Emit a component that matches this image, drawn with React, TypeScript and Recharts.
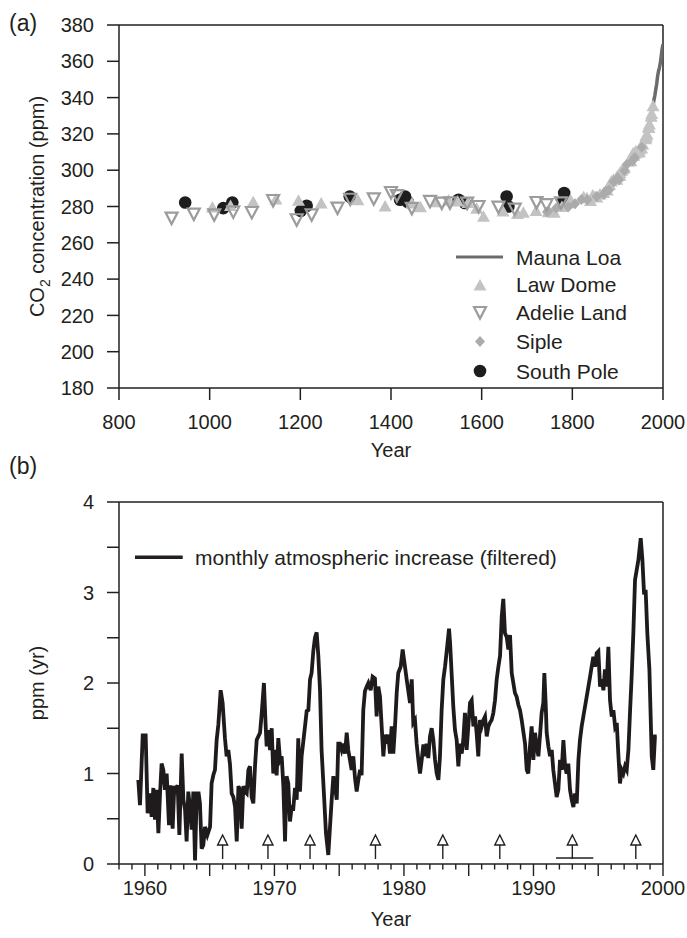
import React from "react";
import {
  ComposedChart,
  Line,
  Scatter,
  XAxis,
  YAxis,
  ReferenceLine,
  Legend,
} from "recharts";

const FONT = '"Liberation Sans", Arial, Helvetica, sans-serif';
const INK = "#231f20";

// ---- panel (a): CO2 records, [year, ppm]
const maunaLoa: [number, number][] = [
  [1959, 316.0], [1960, 316.9], [1962, 318.5], [1964, 319.6], [1966, 321.4],
  [1968, 323.1], [1970, 325.7], [1972, 327.5], [1974, 330.2], [1976, 332.1],
  [1978, 335.4], [1980, 338.7], [1982, 341.1], [1984, 344.4], [1986, 347.4],
  [1988, 351.6], [1990, 354.4], [1992, 356.4], [1994, 358.8], [1996, 362.6],
  [1998, 366.7], [2000, 369.4],
];

const lawDome: [number, number][] = [
  [1006, 279.4], [1046, 280.3], [1096, 282.4], [1146, 283.8], [1196, 283.1],
  [1246, 281.7], [1327, 283.4], [1387, 280.0], [1446, 281.7], [1465, 279.6],
  [1499, 282.4], [1527, 283.2], [1547, 282.8], [1570, 281.9], [1589, 278.7],
  [1604, 274.3], [1647, 277.2], [1679, 275.9], [1692, 276.5], [1720, 277.5],
  [1747, 276.9], [1760, 276.5], [1777, 279.7], [1794, 281.8], [1796, 283.4],
  [1825, 285.1], [1832, 284.5], [1840, 283.0], [1845, 286.1], [1850, 285.2],
  [1854, 284.9], [1861, 286.6], [1869, 287.4], [1877, 288.8], [1882, 291.9],
  [1886, 293.8], [1891, 294.7], [1898, 294.7], [1899, 296.5], [1905, 296.9],
  [1905, 298.5], [1909, 299.7], [1912, 300.7], [1915, 301.3], [1924, 304.8],
  [1926, 305.2], [1929, 305.0], [1932, 307.8], [1934, 309.2], [1936, 307.9],
  [1939, 309.2], [1940, 310.5], [1944, 309.7], [1948, 309.9], [1948, 311.4],
  [1953, 311.9], [1954, 314.1], [1955, 314.1], [1962, 318.7], [1962, 317.0],
  [1963, 318.2], [1965, 319.5], [1968, 323.7], [1969, 323.2], [1970, 325.2],
  [1974, 329.5], [1975, 331.0], [1978, 335.2],
];

const adelieLand: [number, number][] = [
  [916, 273.6], [965, 275.8], [1010, 275.4], [1052, 277.0], [1093, 276.7],
  [1140, 283.3], [1192, 272.7], [1225, 275.4], [1282, 279.1], [1310, 284.0],
  [1362, 284.2], [1400, 287.7], [1413, 286.0], [1446, 279.0], [1486, 282.8],
  [1512, 281.9], [1530, 282.0], [1568, 281.9], [1593, 280.0], [1637, 279.7],
  [1673, 278.6], [1721, 282.2], [1743, 281.0], [1775, 282.0],
];

const siple: [number, number][] = [
  [1744, 277.0], [1747, 277.5], [1764, 279.0], [1791, 279.7], [1806, 281.5],
  [1820, 283.8], [1833, 283.7], [1854, 285.5], [1869, 286.8], [1874, 288.6],
  [1881, 289.1], [1891, 293.6], [1900, 295.8], [1903, 294.8], [1915, 299.7],
  [1920, 303.1], [1933, 305.2], [1938, 307.0], [1953, 312.7],
];

const southPole: [number, number][] = [
  [946, 282.2], [1030, 279.1], [1050, 282.2], [1201, 277.6], [1214, 280.4],
  [1309, 285.5], [1420, 283.7], [1431, 285.5], [1437, 282.5], [1549, 283.7],
  [1563, 281.9], [1655, 285.5], [1659, 280.0], [1780, 283.0], [1782, 287.4],
];

const seriesNamesA = ["Mauna Loa", "Law Dome", "Adelie Land", "Siple", "South Pole"];
const yearTicksA = [800, 1000, 1200, 1400, 1600, 1800, 2000];
const ppmTicks = [180, 200, 220, 240, 260, 280, 300, 320, 340, 360, 380];

// ---- panel (b): filtered monthly atmospheric increase, [year, ppm/yr]
const monthlyIncrease: [number, number][] = [
  [1959.49, 0.93], [1959.62, 0.65], [1959.83, 1.42], [1960.06, 1.42], [1960.21, 0.56],
  [1960.39, 0.78], [1960.52, 0.52], [1960.65, 0.84], [1960.78, 0.49], [1960.91, 0.82],
  [1961.04, 0.34], [1961.17, 0.78], [1961.29, 1.11], [1961.42, 1.04], [1961.55, 0.82],
  [1961.68, 1.0], [1961.86, 0.43], [1961.99, 0.87], [1962.14, 0.39], [1962.27, 0.86],
  [1962.4, 0.82], [1962.53, 0.87], [1962.66, 0.32], [1962.84, 1.22], [1962.97, 0.71],
  [1963.1, 0.6], [1963.22, 0.25], [1963.35, 0.8], [1963.48, 0.62], [1963.61, 0.38],
  [1963.74, 0.8], [1963.87, 0.04], [1964.0, 0.78], [1964.15, 0.78], [1964.25, 0.67],
  [1964.38, 0.17], [1964.51, 0.21], [1964.64, 0.41], [1964.82, 0.32], [1965.03, 0.41],
  [1965.15, 0.89], [1965.28, 0.98], [1965.41, 1.04], [1965.54, 1.37], [1965.67, 1.54],
  [1965.85, 1.92], [1966.0, 1.78], [1966.18, 1.39], [1966.31, 1.19], [1966.44, 1.26],
  [1966.57, 1.1], [1966.7, 0.78], [1966.83, 0.74], [1966.96, 0.63], [1967.09, 0.25],
  [1967.22, 0.86], [1967.34, 0.82], [1967.47, 0.39], [1967.6, 0.86], [1967.73, 0.8],
  [1967.86, 0.78], [1967.99, 1.04], [1968.11, 1.08], [1968.24, 0.74], [1968.37, 0.67],
  [1968.5, 1.08], [1968.63, 1.37], [1968.76, 1.41], [1968.89, 1.45], [1969.01, 1.65],
  [1969.19, 2.0], [1969.32, 1.54], [1969.4, 1.3], [1969.53, 1.48], [1969.66, 1.26],
  [1969.79, 1.5], [1969.91, 1.0], [1970.04, 1.26], [1970.17, 0.98], [1970.3, 1.39],
  [1970.43, 1.15], [1970.56, 1.19], [1970.69, 0.86], [1970.82, 0.25], [1970.94, 0.97],
  [1971.07, 0.89], [1971.2, 0.47], [1971.33, 0.63], [1971.46, 0.62], [1971.59, 0.84],
  [1971.72, 0.71], [1971.84, 1.39], [1971.97, 0.8], [1972.1, 1.19], [1972.36, 1.52],
  [1972.49, 1.69], [1972.62, 1.7], [1972.75, 2.04], [1972.87, 2.11], [1973.0, 2.35],
  [1973.13, 2.5], [1973.26, 2.56], [1973.39, 2.3], [1973.52, 1.92], [1973.64, 1.26],
  [1973.82, 0.78], [1973.98, 0.34], [1974.16, 0.1], [1974.29, 0.41], [1974.42, 0.71],
  [1974.55, 0.97], [1974.68, 0.86], [1974.81, 0.71], [1974.93, 1.33], [1975.06, 1.33],
  [1975.19, 1.26], [1975.32, 1.33], [1975.45, 1.22], [1975.58, 1.45], [1975.7, 1.26],
  [1975.83, 1.15], [1975.96, 1.04], [1976.09, 1.19], [1976.22, 0.95], [1976.35, 0.8],
  [1976.48, 0.93], [1976.61, 1.04], [1976.73, 0.98], [1976.86, 1.7], [1976.99, 1.91],
  [1977.12, 1.96], [1977.25, 2.0], [1977.43, 1.92], [1977.58, 2.07], [1977.76, 2.05],
  [1977.89, 1.63], [1978.02, 1.96], [1978.15, 1.85], [1978.28, 1.52], [1978.41, 1.19],
  [1978.54, 1.43], [1978.66, 1.33], [1978.79, 1.43], [1978.92, 1.22], [1979.05, 1.52],
  [1979.18, 1.22], [1979.31, 1.52], [1979.44, 1.89], [1979.56, 2.11], [1979.75, 2.18],
  [1979.9, 2.37], [1980.08, 2.18], [1980.21, 2.04], [1980.47, 1.78], [1980.6, 2.04],
  [1980.72, 1.56], [1980.85, 1.59], [1980.98, 1.33], [1981.11, 1.15], [1981.24, 1.0],
  [1981.37, 1.15], [1981.5, 1.32], [1981.63, 1.19], [1981.75, 1.33], [1981.88, 1.17],
  [1982.01, 1.41], [1982.14, 1.5], [1982.27, 1.37], [1982.4, 1.15], [1982.53, 1.0],
  [1982.66, 0.93], [1982.78, 1.19], [1982.91, 1.7], [1983.04, 2.04], [1983.17, 2.18],
  [1983.3, 2.35], [1983.48, 2.6], [1983.56, 2.45], [1983.68, 2.11], [1983.81, 1.74],
  [1983.94, 1.48], [1984.07, 1.37], [1984.2, 1.08], [1984.33, 1.33], [1984.46, 1.22],
  [1984.58, 1.37], [1984.71, 1.67], [1984.84, 1.26], [1984.97, 1.52], [1985.1, 1.78],
  [1985.23, 1.81], [1985.36, 1.52], [1985.49, 1.63], [1985.61, 1.45], [1985.74, 1.19],
  [1985.87, 1.59], [1986.0, 1.52], [1986.13, 1.59], [1986.26, 1.63], [1986.39, 1.41],
  [1986.52, 1.52], [1986.64, 1.56], [1986.77, 1.59], [1986.9, 1.67], [1987.03, 1.81],
  [1987.16, 2.04], [1987.29, 2.18], [1987.42, 2.3], [1987.55, 2.74], [1987.67, 2.93],
  [1987.8, 2.55], [1987.93, 2.51], [1988.06, 2.37], [1988.19, 2.53], [1988.32, 2.11],
  [1988.57, 1.89], [1988.7, 1.85], [1988.83, 1.76], [1988.96, 1.7], [1989.09, 1.59],
  [1989.22, 1.46], [1989.35, 1.33], [1989.48, 1.04], [1989.6, 1.0], [1989.73, 1.3],
  [1989.86, 1.52], [1989.99, 1.15], [1990.12, 1.45], [1990.25, 1.3], [1990.38, 1.19],
  [1990.5, 1.41], [1990.63, 1.67], [1990.76, 1.78], [1990.84, 2.11], [1990.94, 1.78],
  [1991.02, 1.45], [1991.15, 1.3], [1991.28, 1.19], [1991.41, 1.26], [1991.53, 1.04],
  [1991.66, 0.89], [1991.79, 0.74], [1991.92, 0.82], [1992.05, 1.15], [1992.18, 1.04],
  [1992.31, 1.37], [1992.44, 1.08], [1992.56, 1.0], [1992.69, 1.11], [1992.82, 0.82],
  [1992.95, 0.71], [1993.08, 0.63], [1993.21, 0.78], [1993.34, 0.67], [1993.47, 1.15],
  [1993.59, 1.37], [1993.72, 1.52], [1993.85, 1.63], [1993.98, 1.74], [1994.11, 1.85],
  [1994.24, 1.96], [1994.37, 2.07], [1994.49, 2.18], [1994.62, 2.29], [1994.75, 2.18],
  [1994.88, 2.33], [1995.01, 2.35], [1995.14, 1.96], [1995.27, 2.04], [1995.4, 1.92],
  [1995.52, 2.15], [1995.65, 1.96], [1995.78, 2.4], [1995.91, 1.81], [1996.04, 1.63],
  [1996.17, 1.7], [1996.3, 1.52], [1996.43, 1.56], [1996.55, 1.22], [1996.68, 0.89],
  [1996.81, 1.04], [1996.94, 1.0], [1997.07, 1.08], [1997.2, 1.04], [1997.33, 1.26],
  [1997.46, 1.7], [1997.58, 2.07], [1997.71, 2.55], [1997.84, 3.14], [1998.1, 3.36],
  [1998.28, 3.6], [1998.41, 3.36], [1998.54, 2.98], [1998.66, 3.03], [1998.79, 2.55],
  [1998.95, 2.15], [1999.13, 1.19], [1999.25, 1.04], [1999.38, 1.41], [1999.51, 1.41],
];

const ensoArrowYears = [1966.0, 1969.5, 1972.75, 1977.8, 1983.0, 1987.4, 1993.0, 1997.9];
const arrowTipValue = 0.32;
const pinatuboSpan = [1991.74, 1994.62];
const pinatuboLevel = 0.067;

const yearTicksB = Array.from({ length: 43 }, (_, i) => 1958 + i);
const incTicks = [0, 0.5, 1, 1.5, 2, 2.5, 3, 3.5, 4];

const toPoints = (rows: [number, number][]) => rows.map(([year, v]) => ({ year, v }));

// ---- marker shapes
const upTriangle = (p: any) => (
  <polygon
    points={`${p.cx},${p.cy - 6.5} ${p.cx - 6.5},${p.cy + 5} ${p.cx + 6.5},${p.cy + 5}`}
    fill="#c3c3c3"
  />
);
const downTriangle = (p: any) => (
  <polygon
    points={`${p.cx - 6},${p.cy - 5.5} ${p.cx + 6},${p.cy - 5.5} ${p.cx},${p.cy + 6}`}
    fill="none"
    stroke="#9c9c9c"
    strokeWidth={2.2}
  />
);
const diamond = (p: any) => (
  <polygon
    points={`${p.cx},${p.cy - 5.5} ${p.cx + 5},${p.cy} ${p.cx},${p.cy + 5.5} ${p.cx - 5},${p.cy}`}
    fill="#ababab"
  />
);
const dot = (p: any) => <circle cx={p.cx} cy={p.cy} r={6.3} fill="#1e1c1d" />;

const arrow = (p: any) => (
  <g>
    <polygon
      points={`${p.cx},${p.cy} ${p.cx - 5},${p.cy + 10} ${p.cx + 5},${p.cy + 10}`}
      fill="#fff"
      stroke={INK}
      strokeWidth={1.4}
    />
    <line x1={p.cx} y1={p.cy + 10} x2={p.cx} y2={p.cy + 24} stroke={INK} strokeWidth={1.4} />
  </g>
);

const tickStyle = { fontSize: 20, fill: INK, fontFamily: FONT };

// axis titles are placed at fixed chart coordinates (posX/posY are not touched by recharts)
function AxisTitle({ posX, posY, rotate, children }: any) {
  return (
    <text
      x={posX}
      y={posY}
      textAnchor="middle"
      dominantBaseline="central"
      transform={rotate ? `rotate(-90 ${posX} ${posY})` : undefined}
      fontSize={20}
      fontFamily={FONT}
      fill={INK}
    >
      {children}
    </text>
  );
}

function YearTick({ x, y, payload }: any) {
  const year = payload.value;
  const major = year % 5 === 0;
  return (
    <g>
      <line x1={x} y1={y} x2={x} y2={y + (major ? 12 : 5.5)} stroke={INK} strokeWidth={1.4} />
      {year % 10 === 0 && (
        <text x={x} y={y + 17} dy="0.71em" textAnchor="middle" {...tickStyle}>
          {year}
        </text>
      )}
    </g>
  );
}

const legendRowY = [17, 44.5, 72.5, 101.5, 131];

function LegendA() {
  const markers = [
    <line key="m0" x1={16} y1={legendRowY[0]} x2={63} y2={legendRowY[0]} stroke="#6b6b6b" strokeWidth={3} />,
    upTriangle({ cx: 40, cy: legendRowY[1] + 1 }),
    downTriangle({ cx: 40, cy: legendRowY[2] }),
    diamond({ cx: 40, cy: legendRowY[3] }),
    dot({ cx: 40, cy: legendRowY[4] }),
  ];
  return (
    <svg width={230} height={150} style={{ overflow: "visible" }}>
      {seriesNamesA.map((name, i) => (
        <g key={name}>
          {markers[i]}
          <text x={76} y={legendRowY[i]} dominantBaseline="central" fontSize={21} fontFamily={FONT} fill={INK}>
            {name}
          </text>
        </g>
      ))}
    </svg>
  );
}

function LegendB() {
  return (
    <svg width={480} height={36} style={{ overflow: "visible" }}>
      <line x1={10} y1={17.3} x2={57.7} y2={17.3} stroke={INK} strokeWidth={3.4} />
      <text x={70} y={17.3} dominantBaseline="central" fontSize={21} fontFamily={FONT} fill={INK}>
        monthly atmospheric increase (filtered)
      </text>
    </svg>
  );
}

function PanelLetter({ top, children }: any) {
  return (
    <div
      style={{
        position: "absolute",
        left: 9,
        top,
        fontFamily: FONT,
        fontSize: 23,
        lineHeight: "23px",
        color: INK,
      }}
    >
      {children}
    </div>
  );
}

export default function App() {
  return (
    <div style={{ position: "absolute", left: 0, top: 0, width: 687, height: 938, background: "#fff" }}>
      <PanelLetter top={12}>(a)</PanelLetter>
      <PanelLetter top={455}>(b)</PanelLetter>

      <div style={{ position: "absolute", left: 0, top: 0 }}>
        <ComposedChart width={687} height={470} margin={{ top: 25, right: 24, bottom: 22, left: 0 }}>
          <XAxis
            dataKey="year"
            type="number"
            domain={[800, 2000]}
            ticks={yearTicksA}
            interval={0}
            height={60}
            tickSize={12}
            tickMargin={15}
            tick={tickStyle}
            stroke={INK}
            strokeWidth={1.5}
            allowDataOverflow
            label={<AxisTitle posX={391} posY={450}>Year</AxisTitle>}
          />
          <YAxis
            type="number"
            domain={[180, 380]}
            ticks={ppmTicks}
            interval={0}
            width={119}
            tickSize={12}
            tickMargin={13}
            tick={tickStyle}
            stroke={INK}
            strokeWidth={1.5}
            allowDataOverflow
            label={
              <AxisTitle posX={37} posY={206.5} rotate>
                CO
                <tspan baselineShift="sub" fontSize={14}>2</tspan>
                <tspan> concentration (ppm)</tspan>
              </AxisTitle>
            }
          />
          <ReferenceLine y={380} stroke={INK} strokeWidth={1.5} />
          <ReferenceLine x={2000} stroke={INK} strokeWidth={1.5} />
          <Scatter name="South Pole" data={toPoints(southPole)} dataKey="v" shape={dot} isAnimationActive={false} />
          <Scatter name="Law Dome" data={toPoints(lawDome)} dataKey="v" shape={upTriangle} isAnimationActive={false} />
          <Scatter name="Siple" data={toPoints(siple)} dataKey="v" shape={diamond} isAnimationActive={false} />
          <Scatter name="Adelie Land" data={toPoints(adelieLand)} dataKey="v" shape={downTriangle} isAnimationActive={false} />
          <Line
            name="Mauna Loa"
            data={toPoints(maunaLoa)}
            dataKey="v"
            stroke="#6b6b6b"
            strokeWidth={3.5}
            dot={false}
            isAnimationActive={false}
          />
          <Legend
            layout="horizontal"
            verticalAlign="middle"
            align="center"
            content={() => <LegendA />}
            wrapperStyle={{ left: 440, top: 240, width: 230, height: 150 }}
          />
        </ComposedChart>
      </div>

      <div style={{ position: "absolute", left: 0, top: 470 }}>
        <ComposedChart width={687} height={468} margin={{ top: 32, right: 24, bottom: 14, left: 0 }}>
          <XAxis
            dataKey="year"
            type="number"
            domain={[1958, 2000]}
            ticks={yearTicksB}
            interval={0}
            height={60}
            tickSize={0}
            tickMargin={0}
            tickLine={false}
            tick={<YearTick />}
            stroke={INK}
            strokeWidth={1.5}
            allowDataOverflow
            label={<AxisTitle posX={391} posY={449}>Year</AxisTitle>}
          />
          <YAxis
            type="number"
            domain={[0, 4]}
            ticks={incTicks}
            interval={0}
            width={119}
            tickSize={12}
            tickMargin={13}
            tick={tickStyle}
            tickFormatter={(v: number) => (Number.isInteger(v) ? String(v) : "")}
            stroke={INK}
            strokeWidth={1.5}
            allowDataOverflow
            label={<AxisTitle posX={37} posY={213} rotate>ppm (yr)</AxisTitle>}
          />
          <ReferenceLine y={4} stroke={INK} strokeWidth={1.5} />
          <ReferenceLine x={2000} stroke={INK} strokeWidth={1.5} />
          <ReferenceLine
            segment={[
              { x: pinatuboSpan[0], y: pinatuboLevel },
              { x: pinatuboSpan[1], y: pinatuboLevel },
            ]}
            stroke={INK}
            strokeWidth={1.4}
          />
          <Line
            name="monthly atmospheric increase (filtered)"
            data={toPoints(monthlyIncrease)}
            dataKey="v"
            stroke="#1f1b1c"
            strokeWidth={3.8}
            dot={false}
            isAnimationActive={false}
          />
          <Scatter
            data={ensoArrowYears.map((year) => ({ year, v: arrowTipValue }))}
            dataKey="v"
            shape={arrow}
            isAnimationActive={false}
          />
          <Legend
            layout="horizontal"
            verticalAlign="middle"
            align="center"
            content={() => <LegendB />}
            wrapperStyle={{ left: 125, top: 70, width: 480, height: 36 }}
          />
        </ComposedChart>
      </div>
    </div>
  );
}
